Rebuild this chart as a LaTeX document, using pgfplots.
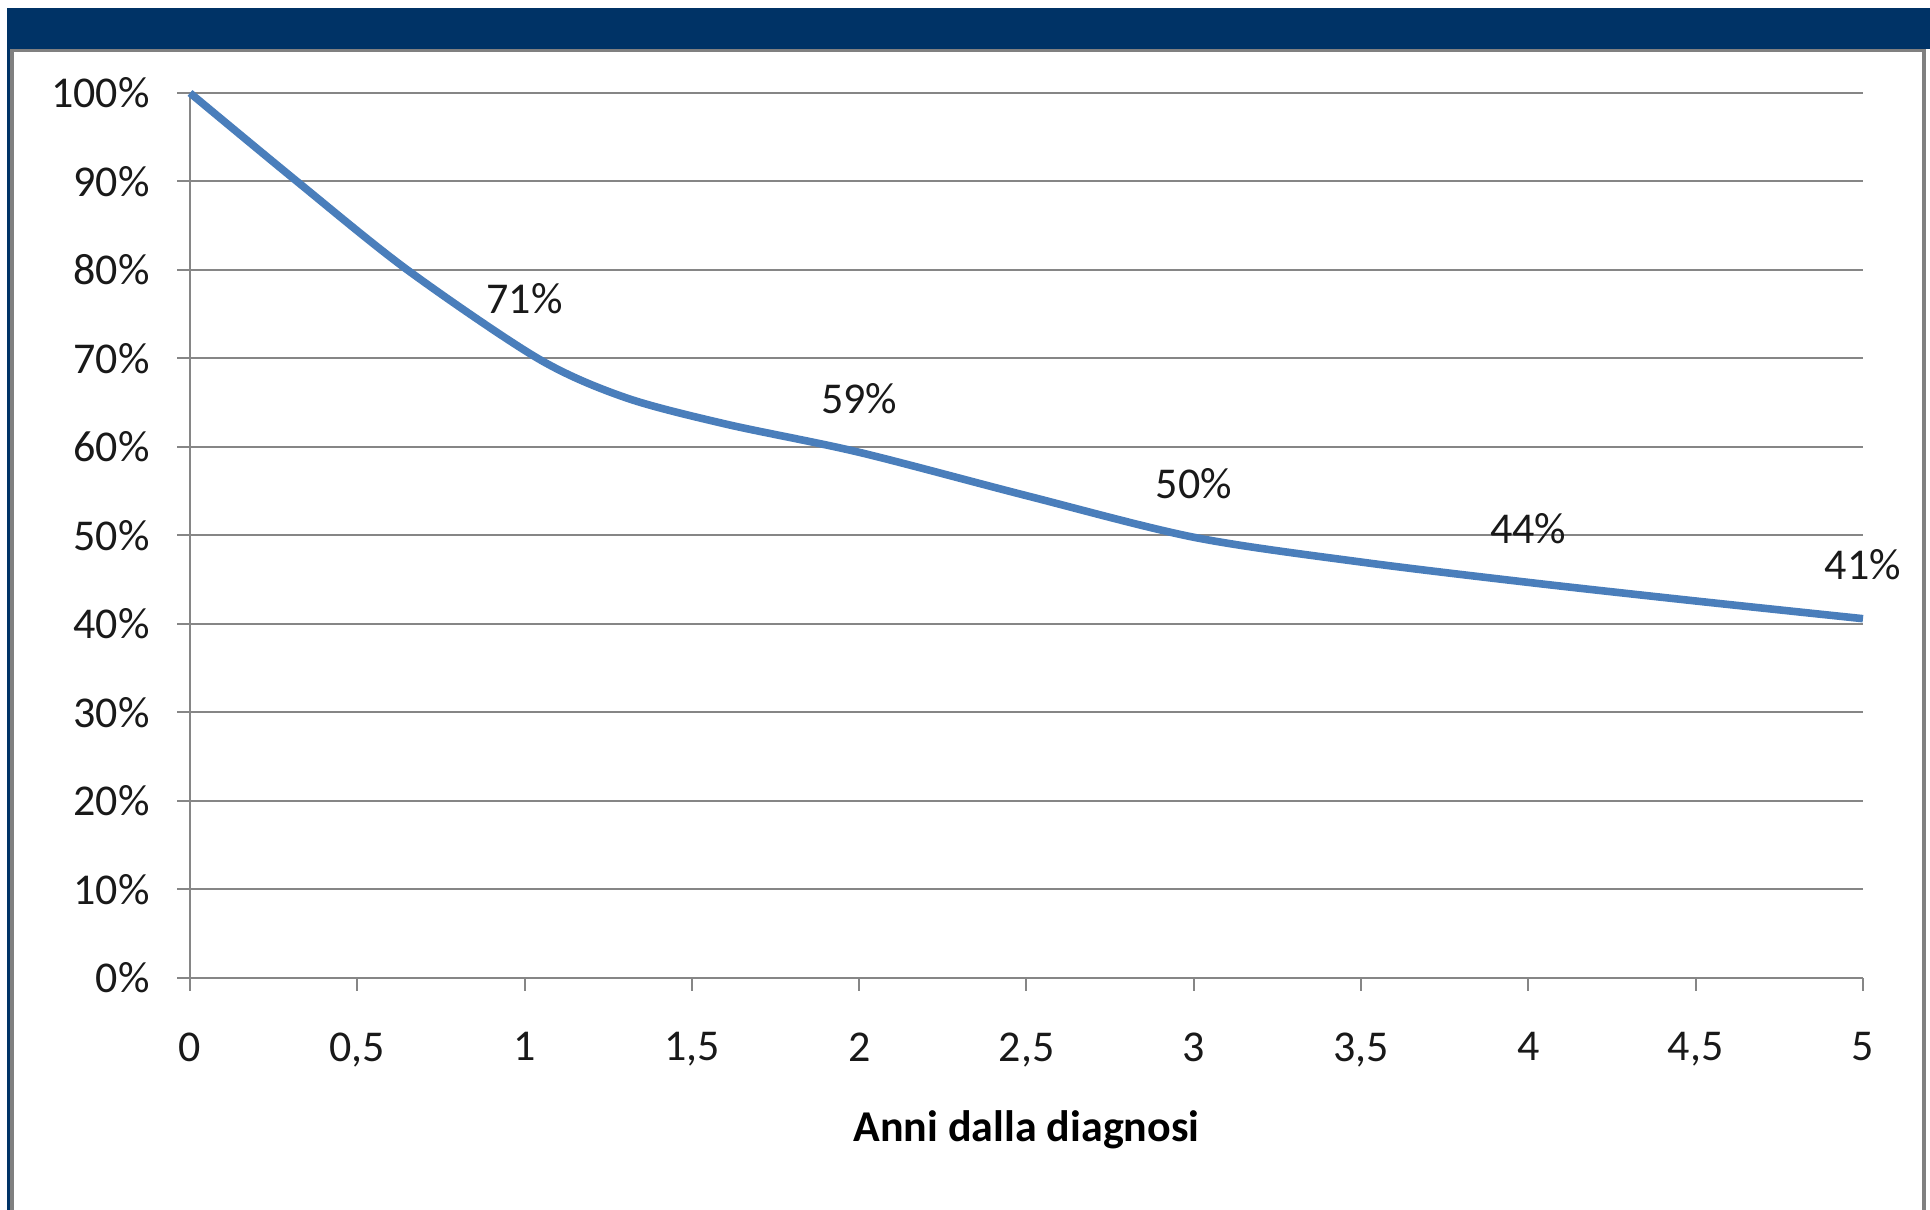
\documentclass[border=0pt]{standalone}
\usepackage{pgfplots}
\pgfplotsset{compat=1.18}
\usepackage{fontspec}
\setmainfont{Carlito}
\definecolor{navy}{RGB}{0,51,102}
\definecolor{framegray}{RGB}{128,128,128}
\definecolor{gridgray}{RGB}{134,134,134}
\definecolor{curveblue}{RGB}{74,126,187}
\begin{document}
\begin{tikzpicture}[x=1pt,y=1pt]
\fontsize{11pt}{13pt}\selectfont
\useasboundingbox (0,0) rectangle (482.5,302.5);
\fill[white] (0,0) rectangle (482.5,302.5);
\fill[navy] (1.75,290.25) rectangle (482.5,300.5);
\fill[navy] (1.75,0) rectangle (2.6,290.25);
\fill[framegray] (2.6,0) rectangle (3.5,290.25);
\fill[framegray] (2.6,289.4) rectangle (481.5,290.25);
\fill[framegray] (480.5,0) rectangle (481.5,290.25);
\begin{axis}[
  at={(47.5pt,58pt)}, anchor=south west,
  scale only axis, width=418.25pt, height=221.25pt,
  xmin=0, xmax=5, ymin=0, ymax=100,
  axis lines*=left,
  axis line style={gridgray, line width=0.5pt},
  xtick={0,0.5,...,5}, ytick={0,10,...,100},
  tick align=outside, major tick length=3.25pt,
  tick style={gridgray, line width=0.5pt},
  ymajorgrids, major grid style={gridgray, line width=0.5pt},
  yticklabel={\pgfmathprintnumber{\tick}\%},
  /pgf/number format/use comma,
  /pgf/number format/assume math mode=true,
  /pgf/number format/1000 sep={},
  ticklabel style={font=\fontsize{11pt}{13pt}\selectfont, text=black!90},
  xticklabel style={yshift=-6.5pt},
  yticklabel style={xshift=-3pt},
  xlabel={\textbf{Anni dalla diagnosi}},
  xlabel style={at={(axis description cs:0.5,0)}, anchor=center, yshift=-38pt, font=\fontsize{11pt}{13pt}\selectfont},
  clip=false,
]
\addplot[curveblue, line width=1.9pt, smooth, mark=none] coordinates {
  (0,100) (0.32,90) (0.65,80) (1.04,70) (1.3,65.6) (1.6,62.6)
  (2.0,59.4) (2.5,54.5) (3.0,49.8) (3.5,47.0) (4.0,44.7) (4.5,42.6) (5,40.6)
};
\addplot[draw=none, mark=none, nodes near coords, point meta=explicit symbolic,
  every node near coord/.append style={anchor=center, yshift=13.5pt, font=\fontsize{11pt}{13pt}\selectfont, text=black!90}]
  coordinates {
  (1,70.7) [71\%]
  (2,59.4) [59\%]
  (3,49.8) [50\%]
  (4,44.7) [44\%]
  (5,40.6) [41\%]
};
\end{axis}
\end{tikzpicture}
\end{document}
